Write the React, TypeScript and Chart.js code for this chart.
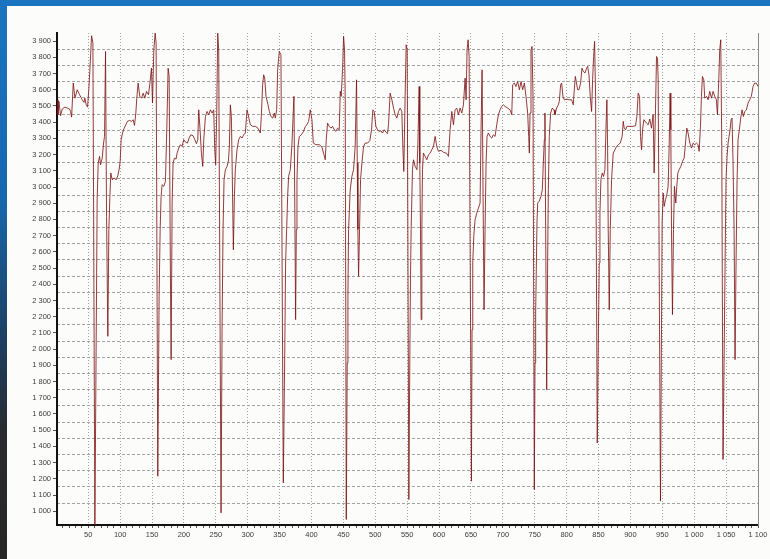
import React, { useEffect, useRef } from "react";
import { Chart, registerables } from "chart.js";

Chart.register(...registerables);

const sampleX = [
  1, 2.5, 4, 6.6, 9.2, 13.4, 17.1, 20.7, 22.3, 23.9, 26.5, 29.1, 32.7, 36.4, 40.6, 43.2, 44.7, 46.8, 48.9, 51,
  53.1, 55.2, 57.3, 60.4, 64, 65.6, 67.7, 69.3, 71.9, 74, 75.5, 77.1, 78.7, 80.7, 82.3, 83.9, 85.4, 87.5, 90.7, 93.8,
  96.4, 98.5, 100, 101.6, 103.7, 106.3, 108.9, 111.5, 114.7, 117.8, 120.4, 122.5, 124.6, 126.1, 128.2, 130.8, 133.5, 136.1, 138.7, 141.3,
  144.4, 147, 149.1, 150.7, 152.8, 154.9, 156.4, 159, 161.1, 162.7, 164.2, 165.8, 168.4, 171, 173.1, 175.2, 176.8, 178.9, 179.9, 181.5,
  183, 185.1, 187.7, 189.3, 191.9, 194.5, 197.1, 199.7, 202.4, 205.5, 208.1, 210.7, 214.4, 217, 219.6, 221.7, 223.2, 225.3, 227.4, 229.5,
  231.1, 233.7, 236.3, 238.9, 241.5, 244.1, 246.7, 248.3, 249.8, 251.4, 253, 254.5, 258.2, 259.8, 261.3, 262.9, 265, 267.6, 269.7, 271.2,
  272.8, 274.4, 275.9, 277.5, 279.1, 280.6, 283.2, 285.9, 288.5, 291.1, 293.7, 296.3, 298.9, 301.5, 304.1, 307.8, 312, 316.1, 319.8, 321.3,
  323.4, 325, 326.6, 328.7, 331.8, 333.9, 336.5, 339.1, 341.7, 343.3, 345.4, 346.9, 349.5, 352.1, 355.8, 357.9, 359.4, 361, 362.6, 364.1,
  366.8, 369.4, 370.9, 372.5, 374.1, 375.1, 376.2, 377.2, 378.8, 380.9, 384, 387.6, 390.3, 392.9, 395.5, 398.1, 400.7, 402.8, 407, 412.2,
  416.4, 419.5, 421.6, 423.1, 425.2, 427.8, 430.4, 433, 435.7, 438.3, 440.9, 443.5, 445.1, 446.6, 448.7, 450.3, 451.8, 452.9, 454.5, 456,
  457.1, 458.1, 460.7, 463.3, 465.9, 468.5, 470.6, 471.7, 472.7, 473.8, 475.3, 476.9, 479, 481.6, 484.2, 487.9, 491.5, 494.1, 496.2, 498.3,
  500.9, 503.5, 506.1, 508.7, 511.3, 514, 516.6, 519.2, 520.7, 523.3, 526, 528.6, 531.2, 533.8, 536.4, 539, 541.6, 543.2, 544.7, 546.8,
  548.4, 550, 552.6, 554.1, 555.2, 556.2, 558.3, 559.9, 562.5, 565.3, 566.7, 568.8, 569.8, 570.9, 571.9, 573, 574, 575.5, 578.2, 580.8,
  583.4, 586, 588.6, 591.2, 593.8, 596.4, 599, 603.2, 607.4, 611.6, 614.7, 617.3, 619.9, 622.5, 625.1, 627.7, 630.3, 633, 635.6, 638.2,
  640.8, 642.4, 643.9, 645.5, 647.1, 650.7, 651.7, 652.8, 654.4, 656.4, 659.1, 661.7, 664.3, 665.8, 667.4, 669, 670.5, 672.1, 673.7, 675.2,
  677.3, 679.9, 682.5, 685.1, 687.8, 690.4, 693, 695.6, 698.2, 700.8, 703.4, 707.6, 711.2, 713.9, 715.4, 718, 720.6, 723.2, 725.9, 728.5,
  731.1, 733.7, 736.3, 738.9, 740.5, 741.5, 742.6, 744.1, 745.7, 747.3, 749.3, 750.4, 751.4, 753.5, 754.6, 756.7, 759.8, 761.9, 763.4, 765,
  766, 767.1, 768.7, 770.2, 771.3, 772.8, 774.9, 777.5, 780.2, 781.7, 784.3, 786.9, 788.5, 790.6, 792.2, 794.2, 796.3, 800, 803.6, 807.8,
  810.4, 812, 813.6, 815.1, 817.2, 819.3, 821.9, 824, 826.1, 828.7, 831.3, 832.9, 835, 837, 839.1, 840.7, 842.3, 843.8, 845.4, 848,
  849.6, 851.1, 852.2, 853.7, 855.8, 857.9, 860, 861.6, 863.1, 864.2, 865.2, 866.8, 868.4, 870.4, 873, 875.7, 878.3, 880.9, 884, 887.1,
  888.7, 890.3, 892.4, 894.5, 899.1, 904.4, 908, 910.1, 912.2, 914.3, 915.8, 917.4, 919, 921.1, 925.2, 927.8, 930.4, 933, 935.6, 937.2,
  939.3, 940.9, 942.4, 943.5, 947.1, 948.7, 949.7, 951.3, 952.9, 955, 957, 959.1, 960.7, 962.3, 963.3, 964.4, 965.9, 967.5, 969, 971.1,
  972.7, 974.3, 976.4, 979, 981.6, 984.2, 986.3, 988.4, 990.4, 993.1, 995.7, 998.3, 1000.9, 1003.5, 1006.1, 1007.7, 1009.8, 1011.3, 1012.9, 1015,
  1016.5, 1019.2, 1021.8, 1024.4, 1027, 1029.6, 1032.2, 1034.8, 1036.4, 1038.5, 1040, 1041.6, 1043.2, 1045.2, 1046.8, 1048.4, 1049.9, 1051.5, 1053.1, 1054.6,
  1056.2, 1057.8, 1059.3, 1060.9, 1062.5, 1064, 1065.6, 1067.2, 1068.7, 1070.8, 1072.9, 1075, 1077.1, 1079.2, 1081.8, 1084.4, 1087, 1089.6, 1092.2, 1094.8,
  1097.4, 1100,
];

const sampleY = [
  3538, 3446, 3528, 3440, 3481, 3493, 3487, 3481, 3466, 3431, 3641, 3548, 3600, 3569, 3538, 3522, 3548, 3507, 3493, 3610,
  3764, 3933, 3888, 915, 2932, 3148, 3189, 3137, 3178, 3271, 3312, 3836, 2819, 2079, 2737, 2942, 3086, 3045, 3055, 3045,
  3070, 3111, 3158, 3292, 3333, 3363, 3384, 3405, 3411, 3405, 3415, 3380, 3456, 3548, 3641, 3559, 3548, 3579, 3548, 3590,
  3569, 3651, 3733, 3518, 3846, 3949, 3888, 1216, 2326, 2737, 2942, 3014, 3004, 3035, 3353, 3733, 3682, 2408, 1935, 2901,
  3148, 3178, 3172, 3209, 3240, 3261, 3250, 3292, 3277, 3271, 3302, 3322, 3316, 3292, 3267, 3292, 3476, 3353, 3209, 3127,
  3292, 3435, 3466, 3446, 3476, 3456, 3476, 3230, 3137, 3456, 3949, 3846, 990, 2120, 2737, 3045, 3107, 3127, 3158, 3250,
  3507, 3435, 3045, 2613, 2942, 3107, 3230, 3292, 3312, 3302, 3322, 3333, 3476, 3431, 3384, 3374, 3374, 3363, 3333, 3435,
  3631, 3692, 3672, 3559, 3507, 3466, 3435, 3425, 3456, 3425, 3476, 3723, 3836, 3816, 1175, 1915, 2531, 2737, 2942, 3065,
  3107, 3271, 3415, 3559, 2737, 2182, 2737, 3045, 3250, 3312, 3322, 3343, 3374, 3384, 3405, 3476, 3415, 3271, 3261, 3261,
  3246, 3199, 3168, 3292, 3394, 3374, 3363, 3374, 3353, 3343, 3363, 3353, 3590, 3559, 3723, 3929, 3846, 3538, 949, 1915,
  2326, 2737, 2983, 3065, 3107, 3250, 3661, 3148, 2737, 2449, 2737, 3045, 3148, 3250, 3271, 3271, 3287, 3353, 3476, 3466,
  3374, 3353, 3343, 3347, 3333, 3353, 3339, 3329, 3384, 3579, 3538, 3487, 3446, 3425, 3466, 3487, 3466, 3250, 3096, 3559,
  3877, 3846, 1072, 1915, 2428, 2737, 3107, 3168, 3127, 3107, 3250, 3620, 3148, 2737, 2182, 2737, 3107, 3209, 3189, 3168,
  3199, 3209, 3230, 3250, 3312, 3250, 3220, 3226, 3213, 3209, 3189, 3353, 3466, 3384, 3476, 3487, 3446, 3487, 3456, 3507,
  3672, 3538, 3846, 3908, 3805, 1185, 2120, 2531, 2696, 2798, 2839, 2870, 2901, 3353, 3723, 2942, 2243, 2737, 3148, 3312,
  3333, 3312, 3302, 3322, 3312, 3384, 3446, 3476, 3497, 3507, 3497, 3487, 3476, 3446, 3631, 3641, 3620, 3651, 3600, 3651,
  3600, 3641, 3559, 3456, 3312, 3209, 3456, 3846, 3867, 3559, 1134, 1915, 2223, 2778, 2901, 2911, 2942, 2983, 3148, 3292,
  3456, 2737, 1750, 2531, 2983, 3312, 3456, 3487, 3476, 3446, 3487, 3507, 3528, 3631, 3641, 3559, 3538, 3542, 3538, 3538,
  3507, 3600, 3682, 3651, 3600, 3600, 3641, 3733, 3713, 3703, 3733, 3744, 3692, 3559, 3466, 3661, 3805, 3898, 3559, 1421,
  2017, 2531, 2839, 3045, 3086, 3065, 3107, 3353, 3538, 3250, 2737, 2243, 2737, 3045, 3209, 3230, 3250, 3261, 3271, 3312,
  3405, 3363, 3353, 3374, 3374, 3374, 3378, 3435, 3579, 3559, 3312, 3230, 3353, 3415, 3394, 3384, 3419, 3363, 3446, 3086,
  3476, 3805, 3795, 3661, 1062, 2120, 2778, 2963, 2880, 2922, 2952, 3004, 3250, 3579, 3353, 2737, 2213, 2737, 3004, 2901,
  3004, 3086, 3107, 3127, 3158, 3178, 3271, 3363, 3333, 3271, 3240, 3271, 3261, 3271, 3261, 3220, 3374, 3559, 3682, 3661,
  3548, 3559, 3538, 3590, 3548, 3590, 3559, 3538, 3446, 3661, 3846, 3908, 3250, 1319, 1915, 2531, 3045, 3189, 3271, 3312,
  3353, 3415, 3425, 3148, 2737, 1935, 2531, 3045, 3292, 3353, 3425, 3476, 3435, 3466, 3476, 3518, 3538, 3559, 3620, 3641,
  3641, 3620,
];

// axis ticks
const xMin = 1;
const xMax = 1100;
const yMin = 915;
const yMax = 3950;
const yLabelTicks = [
  1000, 1100, 1200, 1300, 1400, 1500, 1600, 1700, 1800, 1900, 2000, 2100, 2200, 2300, 2400,
  2500, 2600, 2700, 2800, 2900, 3000, 3100, 3200, 3300, 3400, 3500, 3600, 3700, 3800, 3900,
];
const yGridLines = [
  1050, 1150, 1250, 1350, 1450, 1550, 1650, 1750, 1850, 1950, 2050, 2150, 2250, 2350,
  2450, 2550, 2650, 2750, 2850, 2950, 3050, 3150, 3250, 3350, 3450, 3550, 3650, 3750, 3850,
];
const xLabelStep = 50;
const xMinorStep = 10;

const fmt = (v: number) =>
  v >= 1000 ? `${Math.floor(v / 1000)} ${String(v % 1000).padStart(3, "0")}` : String(v);

const FONT = { family: "'Liberation Sans', Arial, sans-serif", size: 7.5 };
const LABEL_COLOR = "#3c3c3c";
const GRID_COLOR = "#a2a2a2";

export default function App() {
  const ref = useRef<HTMLCanvasElement | null>(null);

  useEffect(() => {
    if (!ref.current) return;
    const xTicks: number[] = [];
    for (let v = xMinorStep; v <= xMax; v += xMinorStep) xTicks.push(v);

    const chart = new Chart(ref.current, {
      type: "line",
      data: {
        datasets: [
          {
            data: sampleX.map((x, i) => ({ x, y: sampleY[i] })),
            borderColor: "rgba(125, 18, 18, 0.82)",
            borderWidth: 1,
            pointRadius: 0,
            tension: 0,
            fill: false,
          },
        ],
      },
      options: {
        animation: false,
        responsive: false,
        layout: { padding: { top: 33, right: 12, left: 0, bottom: 0 } },
        plugins: { legend: { display: false }, tooltip: { enabled: false } },
        scales: {
          x: {
            type: "linear",
            position: "bottom",
            min: xMin,
            max: xMax,
            afterBuildTicks: (s: any) => {
              s.ticks = xTicks.map((v) => ({ value: v }));
            },
            afterFit: (s: any) => {
              s.height = 34;
            },
            ticks: {
              autoSkip: false,
              maxRotation: 0,
              padding: 2,
              color: LABEL_COLOR,
              font: FONT,
              callback: (v: any) => (Number(v) % xLabelStep === 0 ? fmt(Number(v)) : ""),
            },
            grid: {
              color: (c: any) =>
                c.tick && c.tick.value % xLabelStep === 0 && c.tick.value < xMax ? GRID_COLOR : "rgba(0,0,0,0)",
              lineWidth: 1,
              drawTicks: true,
              tickLength: 3,
              tickColor: "#555",
            },
            border: { display: true, color: "#111", width: 2, dash: [1, 2] },
          },
          y: {
            type: "linear",
            position: "left",
            min: yMin,
            max: yMax,
            afterBuildTicks: (s: any) => {
              s.ticks = yLabelTicks.map((v) => ({ value: v }));
            },
            afterFit: (s: any) => {
              s.width = 57;
            },
            ticks: {
              autoSkip: false,
              padding: 2,
              color: LABEL_COLOR,
              font: FONT,
              callback: (v: any) => fmt(Number(v)),
            },
            grid: { drawOnChartArea: false, drawTicks: true, tickLength: 4, tickColor: "#555" },
            border: { display: true, color: "#111", width: 2 },
          },
          yg: {
            type: "linear",
            position: "left",
            min: yMin,
            max: yMax,
            afterBuildTicks: (s: any) => {
              s.ticks = yGridLines.map((v) => ({ value: v }));
            },
            afterFit: (s: any) => {
              s.width = 0;
            },
            ticks: { display: false },
            grid: { drawOnChartArea: true, drawTicks: false, color: GRID_COLOR, lineWidth: 1 },
            border: { display: false, dash: [3, 2] },
          },
          yr: {
            type: "linear",
            position: "right",
            min: yMin,
            max: yMax,
            afterFit: (s: any) => {
              s.width = 0;
            },
            ticks: { display: false },
            grid: { display: false },
            border: { display: true, color: "#8a8a8a", width: 1 },
          },
        },
      },
    } as any);

    return () => chart.destroy();
  }, []);

  return (
    <div
      style={{
        position: "absolute",
        left: 0,
        top: 0,
        width: 770,
        height: 559,
        overflow: "hidden",
        background: "linear-gradient(to bottom, #1b74c0 0%, #1668ae 35%, #1d3f63 60%, #292b2e 78%, #272727 100%)",
      }}
    >
      <div style={{ position: "absolute", left: 7, top: 6, right: 0, bottom: 0, background: "#fcfcfb" }} />
      <canvas
        ref={ref}
        width={770}
        height={559}
        style={{ position: "absolute", left: 0, top: 0, width: 770, height: 559 }}
      />
    </div>
  );
}
